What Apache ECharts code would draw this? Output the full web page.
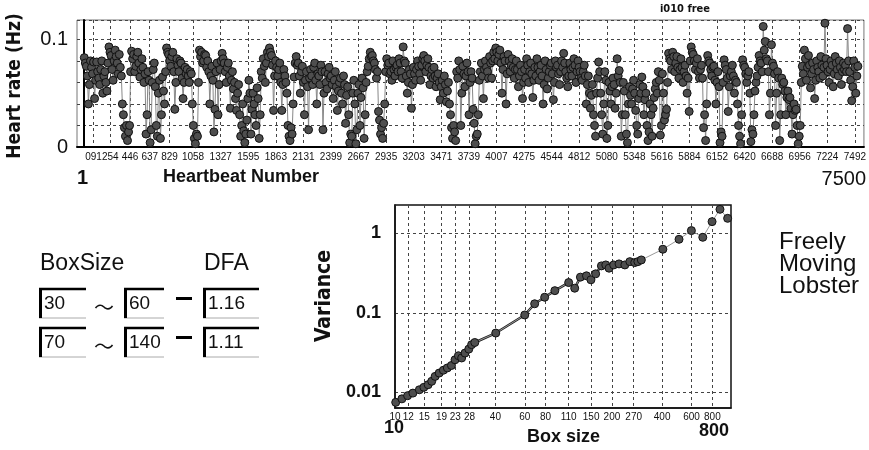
<!DOCTYPE html>
<html>
<head>
<meta charset="utf-8">
<title>Freely Moving Lobster - DFA</title>
<script src="https://cdn.jsdelivr.net/npm/echarts@6/dist/echarts.min.js"></script>
<style>
  html, body { margin: 0; padding: 0; background: #fff; }
  #chart { width: 869px; height: 450px; }
</style>
</head>
<body>
<div id="chart"></div>
<script>
  // heart rate (Hz), one value every beatStep beats
  const beatStep = 10
  const heartRate = [
    0.083, 0.078, 0.075, 0.066, 0.040, 0.058, 0.080, 0.074, 0.068, 0.079, 0.045, 0.062, 0.079, 0.070, 0.064, 0.058, 0.072, 0.080, 0.050, 0.066,
    0.070, 0.060, 0.052, 0.078, 0.093, 0.088, 0.085, 0.072, 0.062, 0.080, 0.090, 0.084, 0.078, 0.068, 0.086, 0.074, 0.066, 0.040, 0.030, 0.018,
    0.010, 0.020, 0.006, 0.014, 0.020, 0.070, 0.089, 0.082, 0.086, 0.070, 0.075, 0.084, 0.088, 0.078, 0.065, 0.072, 0.082, 0.074, 0.060, 0.068,
    0.012, 0.030, 0.070, 0.062, 0.004, 0.016, 0.060, 0.072, 0.078, 0.056, 0.020, 0.010, 0.050, 0.062, 0.008, 0.030, 0.065, 0.052, 0.040, 0.070,
    0.092, 0.088, 0.086, 0.080, 0.075, 0.084, 0.088, 0.070, 0.035, 0.060, 0.082, 0.076, 0.070, 0.080, 0.078, 0.064, 0.045, 0.060, 0.074, 0.068,
    0.072, 0.066, 0.060, 0.070, 0.068, 0.040, 0.020, 0.008, 0.003, 0.012, 0.010, 0.060, 0.090, 0.084, 0.088, 0.078, 0.080, 0.086, 0.085, 0.074,
    0.080, 0.070, 0.040, 0.066, 0.075, 0.062, 0.014, 0.035, 0.070, 0.078, 0.030, 0.058, 0.072, 0.080, 0.087, 0.082, 0.078, 0.070, 0.060, 0.074,
    0.078, 0.066, 0.036, 0.062, 0.070, 0.054, 0.060, 0.045, 0.034, 0.050, 0.058, 0.030, 0.010, 0.020, 0.040, 0.015, 0.004, 0.012, 0.025, 0.045,
    0.062, 0.050, 0.012, 0.035, 0.050, 0.040, 0.030, 0.020, 0.055, 0.045, 0.008, 0.030, 0.070, 0.064, 0.082, 0.075, 0.060, 0.078, 0.088, 0.084,
    0.092, 0.088, 0.085, 0.076, 0.034, 0.066, 0.080, 0.074, 0.066, 0.072, 0.078, 0.060, 0.034, 0.058, 0.072, 0.066, 0.060, 0.050, 0.020, 0.010,
    0.006, 0.018, 0.012, 0.040, 0.065, 0.078, 0.084, 0.076, 0.078, 0.066, 0.050, 0.070, 0.075, 0.060, 0.030, 0.062, 0.070, 0.056, 0.016, 0.064,
    0.072, 0.066, 0.058, 0.074, 0.078, 0.062, 0.040, 0.068, 0.066, 0.058, 0.076, 0.070, 0.016, 0.050, 0.070, 0.060, 0.054, 0.068, 0.074, 0.064,
    0.066, 0.058, 0.045, 0.062, 0.070, 0.056, 0.034, 0.052, 0.060, 0.064, 0.050, 0.040, 0.066, 0.058, 0.022, 0.048, 0.056, 0.030, 0.004, 0.012,
    0.010, 0.050, 0.062, 0.040, 0.003, 0.016, 0.050, 0.058, 0.020, 0.046, 0.064, 0.055, 0.008, 0.030, 0.060, 0.070, 0.075, 0.082, 0.088, 0.084,
    0.085, 0.080, 0.078, 0.072, 0.064, 0.070, 0.033, 0.025, 0.012, 0.018, 0.008, 0.022, 0.040, 0.070, 0.082, 0.076, 0.078, 0.068, 0.070, 0.062,
    0.080, 0.072, 0.066, 0.074, 0.076, 0.070, 0.082, 0.078, 0.070, 0.064, 0.093, 0.080, 0.078, 0.066, 0.050, 0.060, 0.072, 0.068, 0.036, 0.058,
    0.074, 0.068, 0.062, 0.072, 0.080, 0.075, 0.068, 0.062, 0.076, 0.082, 0.085, 0.080, 0.070, 0.076, 0.082, 0.074, 0.058, 0.066, 0.072, 0.064,
    0.074, 0.066, 0.056, 0.064, 0.068, 0.060, 0.044, 0.056, 0.062, 0.050, 0.066, 0.058, 0.042, 0.052, 0.060, 0.040, 0.030, 0.018, 0.008, 0.020,
    0.014, 0.006, 0.070, 0.064, 0.080, 0.072, 0.020, 0.050, 0.075, 0.068, 0.056, 0.066, 0.078, 0.070, 0.030, 0.060, 0.070, 0.064, 0.035, 0.022,
    0.003, 0.010, 0.012, 0.030, 0.062, 0.070, 0.078, 0.066, 0.045, 0.072, 0.080, 0.074, 0.070, 0.064, 0.084, 0.078, 0.064, 0.080, 0.088, 0.082,
    0.092, 0.088, 0.080, 0.086, 0.090, 0.078, 0.050, 0.072, 0.084, 0.080, 0.040, 0.068, 0.086, 0.080, 0.070, 0.076, 0.082, 0.074, 0.064, 0.072,
    0.080, 0.072, 0.056, 0.066, 0.076, 0.070, 0.045, 0.060, 0.072, 0.064, 0.082, 0.076, 0.060, 0.070, 0.078, 0.068, 0.046, 0.062, 0.074, 0.066,
    0.082, 0.074, 0.062, 0.070, 0.076, 0.066, 0.040, 0.058, 0.080, 0.072, 0.054, 0.064, 0.070, 0.076, 0.078, 0.068, 0.044, 0.060, 0.080, 0.074,
    0.076, 0.068, 0.058, 0.070, 0.080, 0.074, 0.087, 0.078, 0.070, 0.064, 0.056, 0.066, 0.078, 0.072, 0.066, 0.074, 0.082, 0.076, 0.060, 0.070,
    0.080, 0.074, 0.070, 0.064, 0.062, 0.070, 0.076, 0.066, 0.040, 0.058, 0.066, 0.050, 0.036, 0.048, 0.058, 0.030, 0.020, 0.010, 0.050, 0.064,
    0.079, 0.070, 0.050, 0.030, 0.012, 0.040, 0.070, 0.062, 0.008, 0.020, 0.060, 0.052, 0.040, 0.056, 0.064, 0.058, 0.036, 0.050, 0.082, 0.066,
    0.071, 0.060, 0.010, 0.030, 0.060, 0.052, 0.030, 0.012, 0.004, 0.040, 0.056, 0.048, 0.040, 0.054, 0.062, 0.050, 0.034, 0.020, 0.012, 0.045,
    0.058, 0.050, 0.065, 0.056, 0.030, 0.044, 0.050, 0.020, 0.006, 0.014, 0.040, 0.030, 0.010, 0.036, 0.046, 0.054, 0.060, 0.050, 0.070, 0.062,
    0.011, 0.020, 0.068, 0.050, 0.025, 0.030, 0.035, 0.060, 0.087, 0.082, 0.080, 0.072, 0.088, 0.084, 0.070, 0.078, 0.084, 0.074, 0.064, 0.072,
    0.082, 0.074, 0.060, 0.070, 0.076, 0.066, 0.050, 0.064, 0.033, 0.080, 0.093, 0.088, 0.086, 0.080, 0.072, 0.078, 0.082, 0.070, 0.064, 0.072,
    0.076, 0.064, 0.018, 0.030, 0.006, 0.040, 0.085, 0.080, 0.078, 0.072, 0.066, 0.074, 0.075, 0.062, 0.040, 0.060, 0.070, 0.056, 0.004, 0.014,
    0.010, 0.060, 0.081, 0.076, 0.072, 0.064, 0.033, 0.056, 0.066, 0.070, 0.076, 0.066, 0.050, 0.062, 0.060, 0.040, 0.020, 0.010, 0.003, 0.030,
    0.081, 0.076, 0.074, 0.068, 0.060, 0.066, 0.070, 0.050, 0.005, 0.016, 0.012, 0.030, 0.052, 0.060, 0.066, 0.074, 0.085, 0.080, 0.078, 0.070,
    0.112, 0.090, 0.098, 0.082, 0.080, 0.070, 0.030, 0.050, 0.095, 0.078, 0.075, 0.068, 0.020, 0.050, 0.070, 0.064, 0.006, 0.030, 0.064, 0.058,
    0.060, 0.052, 0.030, 0.046, 0.052, 0.044, 0.046, 0.036, 0.012, 0.030, 0.040, 0.034, 0.035, 0.020, 0.003, 0.010, 0.020, 0.060, 0.075, 0.068,
    0.090, 0.082, 0.062, 0.074, 0.085, 0.076, 0.055, 0.068, 0.078, 0.072, 0.045, 0.062, 0.080, 0.074, 0.070, 0.064, 0.084, 0.076, 0.066, 0.074,
    0.115, 0.082, 0.076, 0.070, 0.060, 0.072, 0.080, 0.076, 0.056, 0.068, 0.084, 0.078, 0.072, 0.066, 0.080, 0.074, 0.058, 0.070, 0.078, 0.072,
    0.076, 0.070, 0.110, 0.080, 0.070, 0.062, 0.043, 0.056, 0.080, 0.074, 0.050, 0.066, 0.075
  ]
  const beatTicks = [91, 254, 446, 637, 829, 1058, 1327, 1595, 1863, 2131, 2399, 2667, 2935, 3203,
    3471, 3739, 4007, 4275, 4544, 4812, 5080, 5348, 5616, 5884, 6152, 6420, 6688, 6956, 7224, 7492]

  // DFA: variance against box size
  const boxSizes = [10.1, 11, 11.9, 12.8, 14, 14.9, 15.8, 16.6, 17.4, 18.4, 19.5, 20.6, 21.8, 22.9,
    24, 25.1, 26.3, 27.7, 28.8, 30.1, 40.2, 60, 68.8, 79, 90.9, 110, 119.6, 129.4, 140.7, 149.6,
    159.7, 172.9, 183.7, 192.1, 204.8, 220.5, 239, 256, 273.8, 286, 300, 404, 505, 599, 701, 797, 889, 988]
  const variances = [0.0075, 0.0083, 0.0091, 0.0098, 0.0108, 0.0116, 0.0125, 0.0138, 0.0159, 0.0175,
    0.019, 0.0203, 0.0218, 0.0257, 0.0289, 0.0271, 0.0312, 0.035, 0.0398, 0.0424, 0.0557, 0.094,
    0.13, 0.157, 0.19, 0.24, 0.204, 0.281, 0.292, 0.26, 0.309, 0.389, 0.4, 0.364, 0.4, 0.412, 0.4,
    0.44, 0.428, 0.44, 0.462, 0.63, 0.84, 1.08, 0.89, 1.4, 2.0, 1.54]
  const boxTicks = [10, 12, 15, 19, 23, 28, 40, 60, 80, 110, 150, 200, 270, 400, 600, 800]
  const varianceTicks = [0.01, 0.1, 1]

  // fitted ranges shown in the little input boxes
  const dfaFrom = ['30', '70']
  const dfaTo = ['60', '140']
  const dfaValue = ['1.16', '1.11']

  const narrow = "'DejaVu Sans Condensed', 'Liberation Sans', sans-serif"
  const arial = "'Liberation Sans', Arial, sans-serif"
  const gridDash = { color: '#444', width: 1, type: [3, 3] }

  let chart = echarts.init(document.getElementById('chart'), null, { renderer: 'canvas' })

  // little windows-style text boxes
  let graphics = []
  function field(x, y, w, txt) {
    graphics.push({ type: 'line', shape: { x1: x, y1: y + 30, x2: x + w, y2: y + 30 }, style: { stroke: '#aaa', lineWidth: 1 } })
    graphics.push({ type: 'line', shape: { x1: x, y1: y + 1, x2: x + w, y2: y + 1 }, style: { stroke: '#000', lineWidth: 2.5 } })
    graphics.push({ type: 'line', shape: { x1: x + 1.5, y1: y, x2: x + 1.5, y2: y + 30 }, style: { stroke: '#000', lineWidth: 3 } })
    graphics.push({ type: 'text', x: x + 5, y: y + 16, style: { text: txt, font: '19px ' + arial, fill: '#111', verticalAlign: 'middle' } })
  }
  graphics.push({ type: 'text', x: 40, y: 264, style: { text: 'BoxSize', font: '23px ' + arial, fill: '#111', verticalAlign: 'middle' } })
  graphics.push({ type: 'text', x: 204, y: 264, style: { text: 'DFA', font: '23px ' + arial, fill: '#111', verticalAlign: 'middle' } })
  for (let r = 0; r < dfaFrom.length; r++) {
    let y0 = 288 + r * 39
    field(39, y0, 47, dfaFrom[r])
    field(124, y0, 40, dfaTo[r])
    field(203, y0, 56, dfaValue[r])
    graphics.push({ type: 'text', x: 104, y: y0 + 19, style: { text: '～', font: '20px "Noto Sans CJK JP"', fill: '#111', align: 'center', verticalAlign: 'middle' } })
    graphics.push({ type: 'rect', shape: { x: 176, y: y0 + 9, width: 16, height: 3 }, style: { fill: '#000' } })
  }

  // titles and axis names
  graphics.push(
    { type: 'text', x: 15, y: 86, rotation: Math.PI / 2, style: { text: 'Heart rate (Hz)', font: 'bold 19px ' + narrow, fill: '#111', align: 'center', verticalAlign: 'middle' } },
    { type: 'text', x: 685, y: 9, style: { text: 'i010 free', font: 'bold 11px ' + narrow, fill: '#111', align: 'center', verticalAlign: 'middle' } },
    { type: 'text', x: 77, y: 178, style: { text: '1', font: 'bold 20px ' + arial, fill: '#111', verticalAlign: 'middle' } },
    { type: 'text', x: 163, y: 177, style: { text: 'Heartbeat Number', font: 'bold 18px ' + arial, fill: '#111', verticalAlign: 'middle' } },
    { type: 'text', x: 866, y: 179, style: { text: '7500', font: '20px ' + arial, fill: '#111', align: 'right', verticalAlign: 'middle' } },
    { type: 'text', x: 325, y: 296, rotation: Math.PI / 2, style: { text: 'Variance', font: 'bold 21px ' + narrow, fill: '#111', align: 'center', verticalAlign: 'middle' } },
    { type: 'text', x: 394, y: 428, style: { text: '10', font: 'bold 18px ' + arial, fill: '#111', align: 'center', verticalAlign: 'middle' } },
    { type: 'text', x: 527, y: 437, style: { text: 'Box size', font: 'bold 18px ' + arial, fill: '#111', verticalAlign: 'middle' } },
    { type: 'text', x: 729, y: 431, style: { text: '800', font: 'bold 18px ' + arial, fill: '#111', align: 'right', verticalAlign: 'middle' } },
    { type: 'text', x: 779, y: 264, style: { text: 'Freely\nMoving\nLobster', font: '24px ' + arial, lineHeight: 22, fill: '#111', verticalAlign: 'middle' } }
  )

  const dot = { color: '#4e4e4e', borderColor: '#111', borderWidth: 1 }

  chart.setOption({
    animation: false,
    backgroundColor: '#fff',
    graphic: graphics,
    grid: [
      { left: 77, top: 20, width: 788, height: 127, show: true, borderColor: '#777', borderWidth: 1 },
      { left: 395, top: 205, width: 336, height: 203, show: true, borderColor: '#111', borderWidth: 1.5 }
    ],
    xAxis: [{
      gridIndex: 0,
      type: 'value',
      min: -70,
      max: 7580,
      axisLine: { lineStyle: { color: '#000', width: 2 } },
      axisTick: { show: false, customValues: beatTicks },
      axisLabel: {
        customValues: beatTicks,
        formatter: v => String(v).padStart(3, '0'),
        showMinLabel: true,
        showMaxLabel: true,
        hideOverlap: false,
        fontSize: 10, fontFamily: arial, color: '#111', margin: 5
      },
      splitLine: { show: true, lineStyle: gridDash }
    }, {
      gridIndex: 1,
      type: 'log',
      min: 10,
      max: 1035,
      axisLine: { lineStyle: { color: '#111', width: 1.5 } },
      axisTick: { show: false, customValues: boxTicks },
      axisLabel: {
        customValues: boxTicks,
        formatter: v => String(v),
        showMinLabel: true,
        fontSize: 10, fontFamily: arial, color: '#111', margin: 4
      },
      splitLine: { show: true, lineStyle: gridDash }
    }],
    yAxis: [{
      gridIndex: 0,
      type: 'value',
      min: 0,
      max: 0.118,
      interval: 0.02,
      axisLine: { show: true, lineStyle: { color: '#000', width: 2 } },
      axisTick: { show: false },
      axisLabel: {
        formatter: v => (v === 0 ? '0' : Math.abs(v - 0.1) < 1e-9 ? '0.1' : ''),
        fontSize: 20, fontFamily: arial, color: '#111', margin: 9
      },
      splitLine: { show: true, lineStyle: gridDash }
    }, {
      gridIndex: 1,
      type: 'log',
      min: 0.00637,
      max: 2.265,
      axisLine: { show: true, lineStyle: { color: '#111', width: 1.5 } },
      axisTick: { show: false, customValues: varianceTicks },
      axisLabel: {
        customValues: varianceTicks,
        formatter: v => String(v),
        fontSize: 18, fontWeight: 'bold', fontFamily: arial, color: '#111', margin: 14
      },
      splitLine: { show: true, lineStyle: gridDash }
    }],
    series: [{
      name: 'heart rate',
      type: 'line',
      xAxisIndex: 0,
      yAxisIndex: 0,
      data: heartRate.map((v, i) => [1 + i * beatStep, v]),
      symbol: 'circle',
      symbolSize: 8,
      showAllSymbol: true,
      itemStyle: dot,
      lineStyle: { color: '#888', width: 1 }
    }, {
      name: 'dense part',
      type: 'line',
      xAxisIndex: 1,
      yAxisIndex: 1,
      data: boxSizes.map((b, i) => [b, variances[i]]).filter(p => p[0] <= 300),
      symbol: 'none',
      lineStyle: { color: '#222', width: 2.5 },
      z: 2
    }, {
      name: 'variance',
      type: 'line',
      xAxisIndex: 1,
      yAxisIndex: 1,
      data: boxSizes.map((b, i) => [b, variances[i]]),
      symbol: 'circle',
      symbolSize: 8,
      itemStyle: dot,
      lineStyle: { color: '#999', width: 1 },
      z: 3
    }]
  })
</script>
</body>
</html>
